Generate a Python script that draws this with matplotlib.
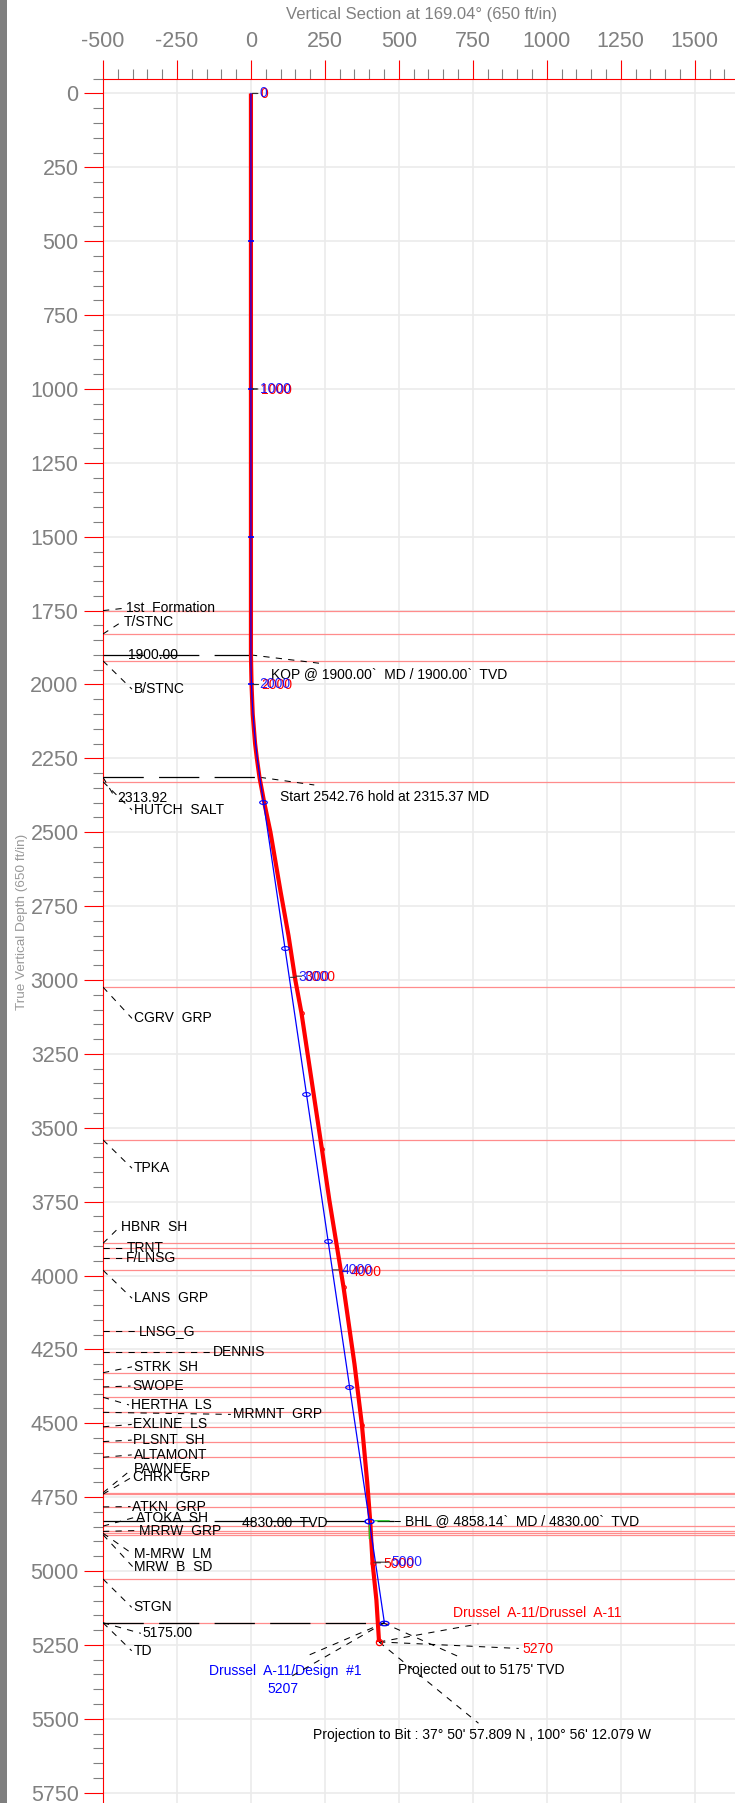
import matplotlib
matplotlib.use("Agg")
import matplotlib.pyplot as plt
from matplotlib.ticker import MultipleLocator
from matplotlib.path import Path
from matplotlib.markers import MarkerStyle
from matplotlib.transforms import Affine2D, offset_copy
import matplotlib.patches as mpatches

plt.rcParams['font.family'] = ['Liberation Sans', 'DejaVu Sans']
plt.rcParams['lines.scale_dashes'] = False
plt.rcParams['axes.unicode_minus'] = False

# ---------------- well data ----------------
# Design #1 (plan): vertical section (ft) vs true vertical depth (ft)
plan_tvd = [0, 1900, 1950, 2000, 2050, 2100, 2150, 2200, 2250, 2313.92, 4830.0, 5175.0]
plan_vs = [0, 0, 0.44, 1.75, 3.93, 6.98, 10.9, 15.7, 21.4, 30.0, 400.0, 451.0]

# plan station markers
plan_dot_tvd = [500, 1000, 1500, 2000]
plan_dot_vs = [0, 0, 0, 1.75]
plan_ring_tvd = [2397.7, 2892.5, 3387.3, 3882.0, 4376.8]
plan_ring_vs = [42.3, 114.5, 186.7, 258.9, 331.1]

# plan MD labels
plan_md_labels = ['0', '1000', '2000', '3000', '4000', '5000']
plan_md_tvd = [0, 1000, 2000, 2991, 3981, 4970]
plan_md_vs = [0, 0, 1.75, 129, 273, 418]

# Drussel A-11 (actual survey)
act_tvd = [0, 1000, 1900, 2000, 2100, 2200, 2250, 2315, 2400, 2500, 2700, 2850,
           3000, 3113, 3573, 3745, 4040, 4300, 4505, 4700, 4830, 4972, 5098, 5240]
act_vs = [0, 0, 0, 2, 6, 14, 20, 29, 45, 66, 100, 127,
          150, 171, 240, 265, 313, 350, 375, 393, 403, 411, 424, 433]

act_dot_tvd = [3113, 3573, 4040, 4505]
act_dot_vs = [171, 240, 313, 375]

act_md_labels = ['0', '1000', '2000', '3000', '4000', '5000']
act_md_tvd = [0, 1000, 2000, 2987, 3985, 4972]
act_md_vs = [0, 0, 2, 148, 305, 411]

# formation tops (TVD, ft)
formations = ['1st  Formation', 'T/STNC', 'B/STNC', 'HUTCH  SALT', 'CGRV  GRP', 'TPKA',
              'HBNR  SH', 'TRNT', 'F/LNSG', 'LANS  GRP', 'LNSG_G', 'DENNIS', 'STRK  SH',
              'SWOPE', 'HERTHA  LS', 'MRMNT  GRP', 'EXLINE  LS', 'PLSNT  SH', 'ALTAMONT',
              'PAWNEE', 'CHRK  GRP', 'ATKN  GRP', 'ATOKA  SH', 'MRRW  GRP', 'M-MRW  LM',
              'MRW  B  SD', 'STGN', 'TD']
formation_tops = [1750, 1829, 1920, 2329, 3024, 3541,
                  3891, 3908, 3942, 3982, 4188, 4258, 4329,
                  4377, 4412, 4463, 4512, 4562, 4615,
                  4735, 4740, 4783, 4848, 4866, 4872,
                  4877, 5027, 5175]

# label placement for the formation names (vs, tvd)
formation_label_pos = [(-423, 1742), (-429, 1787), (-396, 2016), (-396, 2425), (-396, 3130),
                       (-396, 3637), (-439, 3837), (-420, 3908), (-423, 3942), (-396, 4077),
                       (-380, 4188), (-130, 4258), (-396, 4309), (-401, 4374), (-406, 4438),
                       (-62, 4470), (-397, 4504), (-397, 4557), (-397, 4607), (-397, 4656),
                       (-397, 4683), (-401, 4782), (-389, 4819), (-380, 4863), (-394, 4942),
                       (-394, 4985), (-397, 5123), (-397, 5270)]

# plan target depths and their captions
target_tvd = [1900.0, 2313.92, 4830.0, 5175.0]
target_vs = [0.0, 30.0, 400.0, 451.0]
target_text = ['1900.00', '2313.92', '4830.00  TVD', '5175.00']
target_text_pos = [(-415, 1901), (-452, 2385), (-31, 4838), (-366, 5211)]

# ---------------- figure ----------------
W, H = 735, 1803
fig = plt.figure(figsize=(W / 100, H / 100), dpi=100)
fig.patches.append(mpatches.Rectangle((0, 0), 7 / W, 1, transform=fig.transFigure,
                                      facecolor='#7f7f7f', edgecolor='none'))
ax = fig.add_axes([103 / W, 0, 1 - 103 / W, 1 - 78.7 / H])

GRAY = '#808080'
RED = '#ff0000'
BLUE = '#0000ff'
FORM = '#ff8c8c'

for s in ['right', 'bottom']:
    ax.spines[s].set_visible(False)
for s in ['left', 'top']:
    ax.spines[s].set_color(RED)
    ax.spines[s].set_linewidth(0.8)

ax.xaxis.tick_top()
ax.set_xticks(range(-500, 1751, 250))
ax.set_yticks(range(0, 5751, 250))
ax.xaxis.set_minor_locator(MultipleLocator(50))
ax.yaxis.set_minor_locator(MultipleLocator(50))
ax.set_xlim(-500, 1636)
ax.set_ylim(5785, -50)
ax.tick_params(which='major', length=14, width=0.8, color=RED, labelsize=15.5,
               labelcolor=GRAY, pad=5)
ax.tick_params(which='minor', length=7, width=0.8, color=GRAY)
ax.tick_params(axis='y', which='major', pad=3.5)
ax.grid(True, which='major', color='#ebebeb', lw=1.2, zorder=0)
ax.set_axisbelow(True)

fig.text(421.6 / W, 1 - 14 / H, 'Vertical Section at 169.04° (650 ft/in)', ha='center',
         va='center', color=GRAY, fontsize=12)
fig.text(22 / W, 1 - 922 / H, 'True Vertical Depth (650 ft/in)', rotation=90, ha='center',
         va='center', color='#999999', fontsize=9.7)

LEADER = dict(color='black', lw=0.75, dashes=(4.5, 4.5), zorder=4)
LABEL_FS = 10

# formation tops and their names
for name, top, (lx, ly) in zip(formations, formation_tops, formation_label_pos):
    ax.axhline(top, color=FORM, lw=0.9, zorder=1)
    ax.plot([-500, lx - 6], [top, ly], **LEADER)
    ax.text(lx, ly, name, fontsize=LABEL_FS, ha='left', va='center', zorder=5)

# plan target lines
for t_tvd, t_vs, txt, (tx, ty) in zip(target_tvd, target_vs, target_text, target_text_pos):
    ax.plot([-500, t_vs], [t_tvd, t_tvd], color='black', lw=0.9, dashes=(29, 11), zorder=4)
    ax.text(tx, ty, txt, fontsize=LABEL_FS, ha='left', va='center', zorder=5)
    if ty - t_tvd > 20:
        ax.plot([-500, tx - 6], [t_tvd, ty], **LEADER)

# wellbore paths
ax.plot(act_vs, act_tvd, color=RED, lw=3.0, zorder=6, solid_capstyle='butt')
ax.plot(plan_vs, plan_tvd, color=BLUE, lw=0.9, zorder=7)

ellipse = MarkerStyle(Path.unit_circle().transformed(Affine2D().scale(1.0, 0.5)))
ax.plot(plan_dot_vs, plan_dot_tvd, ls='none', marker='_', ms=4, mew=1.2, color=BLUE, zorder=8)
ax.plot(plan_ring_vs, plan_ring_tvd, ls='none', marker=ellipse, ms=5.5, mew=0.8,
        mfc='none', mec=BLUE, zorder=8)
ax.plot(act_dot_vs, act_dot_tvd, ls='none', marker='o', ms=2.6, mew=0.8, mfc='none',
        mec=RED, zorder=8)
ax.plot([act_vs[act_tvd.index(4972)]], [4972], ls='none', marker='o', ms=3.5, mew=0.8,
        mfc='none', mec=RED, zorder=8)
ax.plot([act_vs[-1]], [act_tvd[-1]], ls='none', marker='o', ms=4.5, mew=0.9, mfc='none',
        mec=RED, zorder=8)
ax.plot([plan_vs[-2]], [plan_tvd[-2]], ls='none', marker=ellipse, ms=6.5, mew=1.0,
        mfc='none', mec=BLUE, zorder=9)
ax.plot([plan_vs[-1]], [plan_tvd[-1]], ls='none', marker=ellipse, ms=6.5, mew=0.9,
        mfc='none', mec=BLUE, zorder=9)

# target outline at the BHL
bx, by = plan_vs[-2], plan_tvd[-2]
ax.annotate('', xy=(bx, by), xytext=(20, 0), textcoords='offset pixels',
            arrowprops=dict(arrowstyle='-', color='#22cc22', lw=0.9, shrinkA=0, shrinkB=4),
            zorder=8)
ax.annotate('', xy=(bx, by), xytext=(0, -18), textcoords='offset pixels',
            arrowprops=dict(arrowstyle='-', color='#22cc22', lw=0.9, shrinkA=0, shrinkB=3),
            zorder=8)
ax.plot([bx + 27, 482], [by, by], color='black', lw=0.9, dashes=(29, 11), zorder=4)


def md_labels(labels, vss, tvds, color, offsets, z, dy=0.0, alpha=1.0):
    for lab, vs, tvd, off in zip(labels, vss, tvds, offsets):
        ax.annotate('', xy=(vs, tvd), xytext=(off - 3, 0), textcoords='offset pixels',
                    arrowprops=dict(arrowstyle='-', color='#333333', lw=0.8, shrinkA=0,
                                    shrinkB=1), zorder=z)
        ax.text(vs, tvd, lab, color=color, fontsize=LABEL_FS, ha='left', va='center',
                alpha=alpha,
                transform=offset_copy(ax.transData, fig, x=off, y=dy, units='dots'),
                zorder=z)


md_labels(act_md_labels, act_md_vs, act_md_tvd, RED, [10, 10, 10, 10, 9, 11], 10, dy=-1)
md_labels(plan_md_labels, plan_md_vs, plan_md_tvd, BLUE, [9, 9, 8, 9, 10, 17], 11,
          alpha=0.85)

# annotations
ax.plot([0, 230], [1900, 1928], **LEADER)
ax.text(69, 1965, 'KOP @ 1900.00`  MD / 1900.00`  TVD', fontsize=LABEL_FS, va='center')
ax.plot([30, 214], [2314, 2340], **LEADER)
ax.text(99, 2380, 'Start 2542.76 hold at 2315.37 MD', fontsize=LABEL_FS, va='center')
ax.plot([482, 515], [4830, 4830], **LEADER)
ax.text(519, 4830, 'BHL @ 4858.14`  MD / 4830.00`  TVD', fontsize=LABEL_FS, va='center')

ex, ey = act_vs[-1], act_tvd[-1]
px, py = plan_vs[-1], plan_tvd[-1]
ax.plot([ex, 769], [ey, 5179], **LEADER)
ax.text(682, 5143, 'Drussel  A-11/Drussel  A-11', color=RED, fontsize=LABEL_FS, va='center')
ax.plot([ex, 905], [ey, 5262], **LEADER)
ax.text(917, 5265, '5270', color=RED, fontsize=LABEL_FS, va='center')
ax.plot([px, 183], [py, 5290], **LEADER)
ax.plot([px, 127], [py, 5362], **LEADER)
ax.text(116, 5337, 'Drussel  A-11/Design  #1', color=BLUE, fontsize=LABEL_FS,
        ha='center', va='center')
ax.text(109, 5400, '5207', color=BLUE, fontsize=LABEL_FS, ha='center', va='center')
ax.plot([px - 5, 714], [py, 5295], **LEADER)
ax.text(497, 5335, "Projected out to 5175' TVD", fontsize=LABEL_FS, va='center')
ax.plot([ex, 769], [ey, 5515], **LEADER)
ax.text(211, 5555, "Projection to Bit : 37° 50' 57.809 N , 100° 56' 12.079 W",
        fontsize=LABEL_FS, va='center')

fig.savefig('out.png', dpi=100)
